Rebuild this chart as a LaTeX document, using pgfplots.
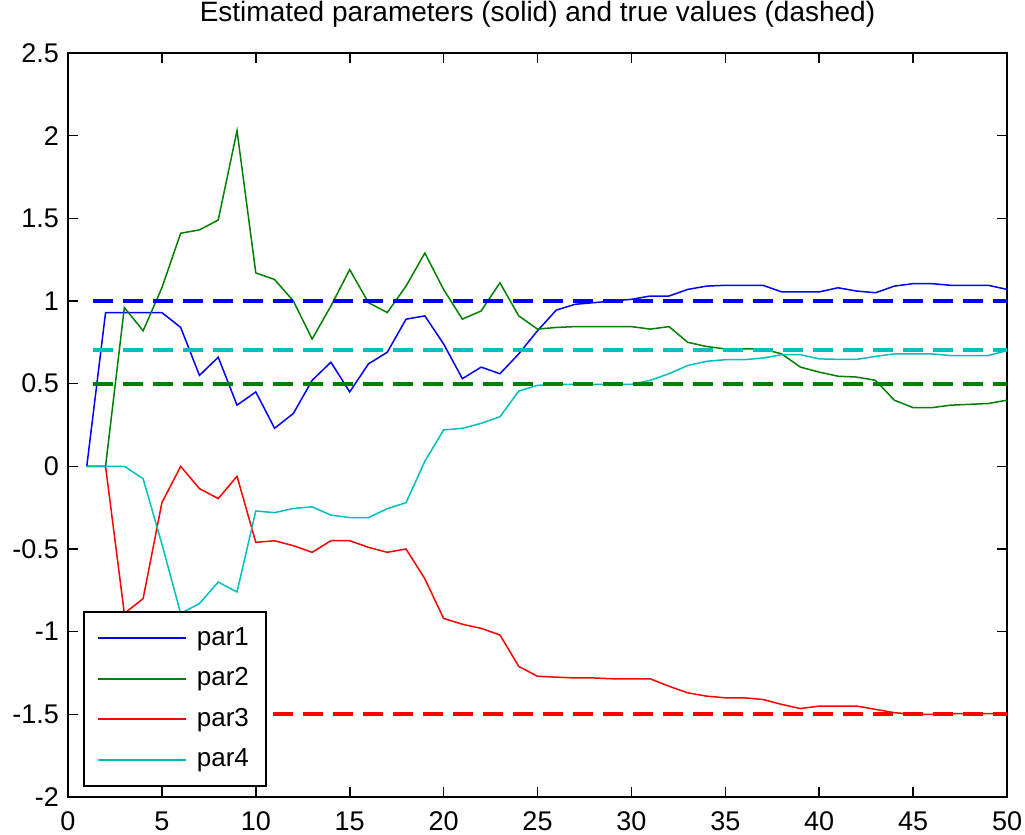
\documentclass[border=0pt]{standalone}
\usepackage{fontspec}
\setmainfont{Liberation Sans}
\usepackage{pgfplots}
\usepackage{pgfplotstable}
\pgfplotsset{compat=1.18}
\definecolor{mblue}{rgb}{0,0,1}
\definecolor{mgreen}{rgb}{0,0.5,0}
\definecolor{mred}{rgb}{1,0,0}
\definecolor{mcyan}{rgb}{0,0.75,0.75}
\pgfplotstableread{
x p1 p2 p3 p4
1 0 0 0 0
2 0.93 0 0 0
3 0.93 0.96 -0.89 0
4 0.93 0.82 -0.80 -0.075
5 0.93 1.08 -0.22 -0.47
6 0.84 1.41 0.0 -0.89
7 0.55 1.43 -0.135 -0.83
8 0.66 1.49 -0.195 -0.70
9 0.37 2.03 -0.06 -0.76
10 0.45 1.17 -0.46 -0.27
11 0.23 1.13 -0.45 -0.28
12 0.32 1.0 -0.48 -0.255
13 0.52 0.77 -0.52 -0.245
14 0.63 0.97 -0.45 -0.295
15 0.45 1.19 -0.45 -0.31
16 0.62 0.99 -0.49 -0.31
17 0.69 0.93 -0.52 -0.256
18 0.89 1.09 -0.50 -0.22
19 0.91 1.29 -0.68 0.03
20 0.74 1.07 -0.92 0.22
21 0.53 0.89 -0.955 0.23
22 0.60 0.94 -0.98 0.26
23 0.56 1.11 -1.02 0.30
24 0.68 0.91 -1.21 0.455
25 0.82 0.83 -1.27 0.49
26 0.945 0.84 -1.275 0.495
27 0.98 0.845 -1.28 0.495
28 0.99 0.845 -1.28 0.495
29 1.0 0.845 -1.285 0.495
30 1.01 0.845 -1.285 0.496
31 1.03 0.83 -1.285 0.52
32 1.03 0.845 -1.33 0.56
33 1.07 0.75 -1.37 0.61
34 1.09 0.725 -1.39 0.635
35 1.095 0.71 -1.40 0.645
36 1.095 0.71 -1.40 0.645
37 1.095 0.71 -1.41 0.655
38 1.055 0.68 -1.44 0.675
39 1.055 0.60 -1.465 0.675
40 1.055 0.57 -1.45 0.65
41 1.08 0.545 -1.45 0.647
42 1.06 0.54 -1.45 0.647
43 1.05 0.52 -1.47 0.665
44 1.09 0.40 -1.49 0.68
45 1.105 0.355 -1.50 0.68
46 1.105 0.355 -1.50 0.68
47 1.095 0.37 -1.495 0.67
48 1.095 0.375 -1.495 0.67
49 1.095 0.38 -1.495 0.67
50 1.07 0.40 -1.495 0.70
}\datatable
\begin{document}
\begin{tikzpicture}
\begin{axis}[name=ax, at={(0,0)}, anchor=south west,
  scale only axis, width=469.5pt, height=372pt,
  xmin=0, xmax=50, ymin=-2, ymax=2.5,
  xtick={0,5,10,15,20,25,30,35,40,45,50},
  ytick={-2,-1.5,-1,-0.5,0,0.5,1,1.5,2,2.5},
  tick align=inside, major tick length=5pt,
  /pgf/number format/assume math mode=true,
  ticklabel style={font=\fontsize{13.5}{15}\selectfont},
  xticklabel style={anchor=base, yshift=-16.5pt},
  yticklabel style={anchor=east, xshift=-1pt, /pgf/number format/fixed, /pgf/number format/precision=1},
  axis line style={line width=0.8pt},
  every tick/.style={black, line width=0.8pt},
  title={Estimated parameters (solid) and true values (dashed)},
  title style={font=\fontsize{14}{16}\selectfont, at={(0.5,1)}, anchor=base, yshift=9.5pt},
  legend cell align=left,
  legend style={at={(0.0163,0.0138)}, anchor=south west, draw=black, line width=0.8pt,
    font=\fontsize{13}{15}\selectfont, inner xsep=6.5pt, inner ysep=4.5pt, row sep=3.3pt, column sep=3pt,
    nodes={text height=10pt, text depth=3pt, inner sep=2pt}},
  legend image code/.code={\draw[#1, line width=0.9pt] (0pt,0pt) -- (44pt,0pt);},
]
\addplot[mblue, line width=0.75pt] table[x=x, y=p1] {\datatable};
\addlegendentry{par1}
\addplot[mgreen, line width=0.75pt] table[x=x, y=p2] {\datatable};
\addlegendentry{par2}
\addplot[mred, line width=0.75pt] table[x=x, y=p3] {\datatable};
\addlegendentry{par3}
\addplot[mcyan, line width=0.75pt] table[x=x, y=p4] {\datatable};
\addlegendentry{par4}
\addplot[mblue, line width=1.9pt, dash pattern=on 10pt off 5pt, forget plot] coordinates {(1.35,1) (50,1)};
\addplot[mgreen, line width=1.9pt, dash pattern=on 10pt off 5pt, forget plot] coordinates {(1.35,0.5) (50,0.5)};
\addplot[mred, line width=1.9pt, dash pattern=on 10pt off 5pt, forget plot] coordinates {(1.35,-1.5) (50,-1.5)};
\addplot[mcyan, line width=1.9pt, dash pattern=on 10pt off 5pt, forget plot] coordinates {(1.35,0.706) (50,0.706)};
\end{axis}
\pgfresetboundingbox
\path[use as bounding box] ([xshift=-34pt,yshift=-18.5pt]ax.south west) rectangle ([xshift=9pt,yshift=26.5pt]ax.north east);
\end{tikzpicture}
\end{document}
